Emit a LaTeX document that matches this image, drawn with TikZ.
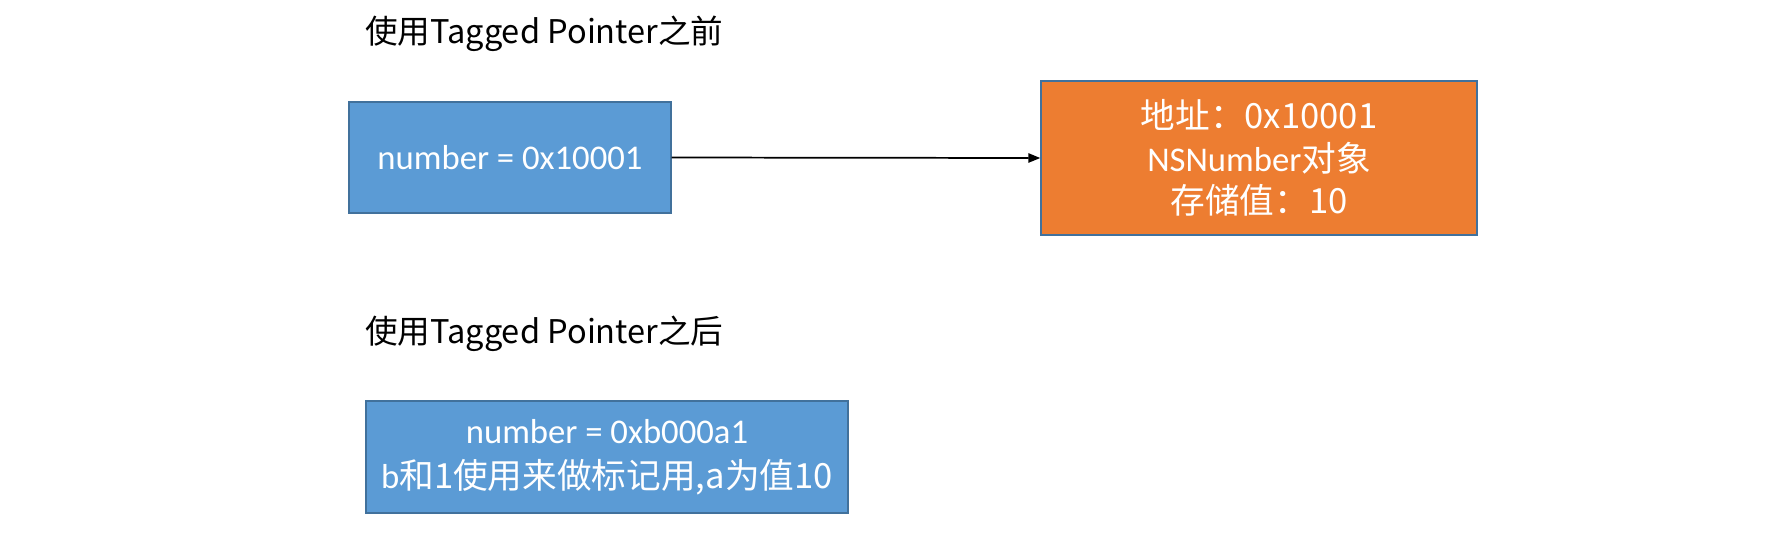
\documentclass[tikz,border=0pt]{standalone}
\usepackage{fontspec}
\setmainfont{Carlito}
\newfontfamily\cjk{Noto Sans CJK SC}[Scale=1.0]
\newfontfamily\cjktitle{Noto Sans CJK SC}[Scale=0.94]
\usetikzlibrary{arrows.meta}
\definecolor{boxblue}{HTML}{5B9BD5}
\definecolor{boxorange}{HTML}{ED7D31}
\definecolor{boxedge}{HTML}{41719C}
\begin{document}
\begin{tikzpicture}[x=0.75pt,y=-0.75pt,
  boxstyle/.style={draw=boxedge,line width=1.1pt,text=white,align=center,
    font=\fontsize{26}{32}\selectfont,inner sep=0pt},
  titlestyle/.style={anchor=west,font=\fontsize{26}{32}\selectfont,inner sep=0pt}]
\useasboundingbox (0,0) rectangle (1772,544);
\node[titlestyle] (t1) at (365,34) {\cjktitle{使用}Tagged Pointer\cjktitle{之前}};
\node[titlestyle] (t2) at (365,334) {\cjktitle{使用}Tagged Pointer\cjktitle{之后}};
\node[boxstyle,fill=boxblue,minimum width=241.5pt,minimum height=83.25pt] (a) at (510,157.5)
  {number = 0x10001};
\node[boxstyle,fill=boxorange,minimum width=327pt,minimum height=115.5pt] (b) at (1259,158)
  {\cjk{地址：}0x10001\\NSNumber\cjk{对象}\\\cjk{存储值：}10};
\node[boxstyle,fill=boxblue,minimum width=361.5pt,minimum height=84pt,
  font=\fontsize{26}{34}\selectfont] (c) at (607,457)
  {number = 0xb000a1\\b\cjk{和}1\cjk{使用来做标记用},a\cjk{为值}10};
\draw[line width=1.3pt,-{Triangle[length=9pt,width=7pt]}] (a.east) -- (b.west);
\end{tikzpicture}
\end{document}
